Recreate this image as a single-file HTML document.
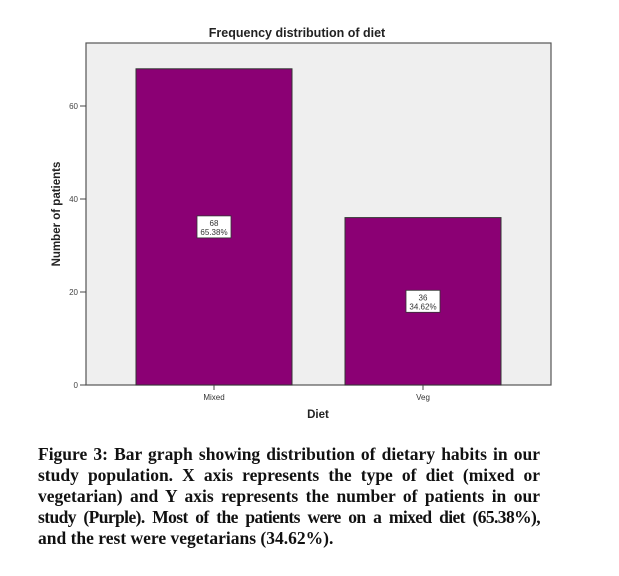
<!DOCTYPE html>
<html><head><meta charset="utf-8"><style>
body{margin:0;background:#fff;width:619px;height:576px;overflow:hidden;position:relative}
.cap{position:absolute;left:38px;width:502px;font:bold 17.5px "Liberation Serif",serif;color:#111}
.cap div{height:21px;line-height:21px;text-align:justify;text-align-last:justify;white-space:nowrap}
.cap div.last{text-align-last:left}
.cap div.tight{letter-spacing:-0.6px;word-spacing:-1px}
</style></head><body>
<svg width="619" height="440" style="position:absolute;left:0;top:0" font-family="Liberation Sans, DejaVu Sans, sans-serif">
<text x="297" y="37" text-anchor="middle" font-size="12.5" font-weight="bold" fill="#222">Frequency distribution of diet</text>
<rect x="86" y="43" width="465" height="342" fill="#efefef" stroke="#555" stroke-width="1.2"/>
<g id="yaxis"></g><g id="bars"></g>
<text transform="translate(60,214) rotate(-90)" text-anchor="middle" font-size="11.5" font-weight="bold" fill="#222">Number of patients</text>
<text x="318" y="418" text-anchor="middle" font-size="11.5" font-weight="bold" fill="#222">Diet</text>
</svg>
<div class="cap" style="top:444px">
<div>Figure 3: Bar graph showing distribution of dietary habits in our</div>
<div>study population. X axis represents the type of diet (mixed or</div>
<div>vegetarian) and Y axis represents the number of patients in our</div>
<div class="tight">study (Purple). Most of the patients were on a mixed diet (65.38%),</div>
<div class="last">and the rest were vegetarians (34.62%).</div>
</div>
<script>
const categories=["Mixed","Veg"];
const counts=[68,36];
const percents=["65.38%","34.62%"];
const yTicks=[0,20,40,60];
const NS="http://www.w3.org/2000/svg";
const y0=385,ppu=4.65;
function y(v){return y0-v*ppu;}
const xc=[214,423],bw=156;
function mk(t,a,p){const e=document.createElementNS(NS,t);for(const k in a)e.setAttribute(k,a[k]);if(p)p.appendChild(e);return e;}
const ya=document.getElementById('yaxis'),bg=document.getElementById('bars');
yTicks.forEach(v=>{
 const l=mk('line',{x1:80,x2:86,y1:y(v),y2:y(v),stroke:'#444'},ya);
 
 
 const t=mk('text',{x:78,y:y(v)+3,'text-anchor':'end','font-size':8,fill:'#444'},ya);t.textContent=v;
 
 
});
categories.forEach((c,i)=>{
 const cx=xc[i];
 const r=mk('rect',{x:cx-bw/2,y:y(counts[i]),width:bw,height:counts[i]*ppu,fill:'#8b0074',stroke:'#333','stroke-width':1},bg);
 
 
 mk('line',{x1:cx,x2:cx,y1:385,y2:390,stroke:'#444'},bg);
 const t=mk('text',{x:cx,y:400,'text-anchor':'middle','font-size':8,fill:'#333'},bg);t.textContent=c;
 
 
 const ly=(y(counts[i])+y0)/2;
 const b=mk('rect',{x:cx-17,y:ly-11,width:34,height:22,fill:'#fff',stroke:'#333','stroke-width':0.8},bg);
 
 
 const t1=mk('text',{x:cx,y:ly-1,'text-anchor':'middle','font-size':8,fill:'#333'},bg);t1.textContent=counts[i];
 const t2=mk('text',{x:cx,y:ly+8,'text-anchor':'middle','font-size':8,fill:'#333'},bg);t2.textContent=percents[i];
 
 
 
 
});
</script>
</body></html>
